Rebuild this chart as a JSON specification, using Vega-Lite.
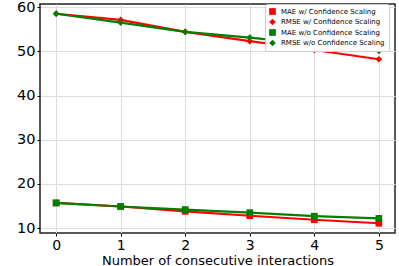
{
  "$schema": "https://vega.github.io/schema/vega-lite/v6.json",
  "width": 355,
  "height": 229,
  "autosize": "none",
  "padding": {"left": 40, "top": 4, "right": 4, "bottom": 33},
  "config": {
    "view": {"stroke": "#222", "strokeWidth": 1.5},
    "font": "DejaVu Sans"
  },
  "data": {
    "values": [
      {"x": 0, "series": "MAE w/ Confidence Scaling", "v": 15.7},
      {"x": 1, "series": "MAE w/ Confidence Scaling", "v": 14.9},
      {"x": 2, "series": "MAE w/ Confidence Scaling", "v": 13.8},
      {"x": 3, "series": "MAE w/ Confidence Scaling", "v": 12.8},
      {"x": 4, "series": "MAE w/ Confidence Scaling", "v": 11.9},
      {"x": 5, "series": "MAE w/ Confidence Scaling", "v": 11.1},
      {"x": 0, "series": "RMSE w/ Confidence Scaling", "v": 58.5},
      {"x": 1, "series": "RMSE w/ Confidence Scaling", "v": 57.1},
      {"x": 2, "series": "RMSE w/ Confidence Scaling", "v": 54.4},
      {"x": 3, "series": "RMSE w/ Confidence Scaling", "v": 52.3},
      {"x": 4, "series": "RMSE w/ Confidence Scaling", "v": 50.3},
      {"x": 5, "series": "RMSE w/ Confidence Scaling", "v": 48.2},
      {"x": 0, "series": "MAE w/o Confidence Scaling", "v": 15.7},
      {"x": 1, "series": "MAE w/o Confidence Scaling", "v": 14.9},
      {"x": 2, "series": "MAE w/o Confidence Scaling", "v": 14.2},
      {"x": 3, "series": "MAE w/o Confidence Scaling", "v": 13.5},
      {"x": 4, "series": "MAE w/o Confidence Scaling", "v": 12.7},
      {"x": 5, "series": "MAE w/o Confidence Scaling", "v": 12.2},
      {"x": 0, "series": "RMSE w/o Confidence Scaling", "v": 58.5},
      {"x": 1, "series": "RMSE w/o Confidence Scaling", "v": 56.5},
      {"x": 2, "series": "RMSE w/o Confidence Scaling", "v": 54.4},
      {"x": 3, "series": "RMSE w/o Confidence Scaling", "v": 53.1},
      {"x": 4, "series": "RMSE w/o Confidence Scaling", "v": 51.6},
      {"x": 5, "series": "RMSE w/o Confidence Scaling", "v": 50.1}
    ]
  },
  "mark": {"type": "line", "strokeWidth": 2.2, "point": {"size": 45, "filled": true, "opacity": 1}},
  "encoding": {
    "x": {
      "field": "x", "type": "quantitative",
      "scale": {"domain": [-0.25, 5.25], "nice": false, "zero": false},
      "axis": {
        "values": [0, 1, 2, 3, 4, 5], "format": "d",
        "title": "Number of consecutive interactions",
        "titleFontSize": 13, "titleFontWeight": "normal", "titleColor": "#000", "titlePadding": 2,
        "labelFontSize": 14, "labelColor": "#000", "labelPadding": 2,
        "domain": false, "tickSize": 3, "tickColor": "#000",
        "gridColor": "#dcdcdc", "gridWidth": 1
      }
    },
    "y": {
      "field": "v", "type": "quantitative",
      "scale": {"domain": [8.9, 60.7], "nice": false, "zero": false},
      "axis": {
        "values": [10, 20, 30, 40, 50, 60],
        "title": null,
        "labelFontSize": 14.5, "labelColor": "#000", "labelPadding": 2,
        "domain": false, "tickSize": 3, "tickColor": "#000",
        "gridColor": "#dcdcdc", "gridWidth": 1
      }
    },
    "color": {
      "field": "series", "type": "nominal",
      "scale": {
        "domain": ["MAE w/ Confidence Scaling", "RMSE w/ Confidence Scaling", "MAE w/o Confidence Scaling", "RMSE w/o Confidence Scaling"],
        "range": ["#ff0000", "#ff0000", "#008000", "#008000"]
      },
      "legend": {
        "title": null, "orient": "none", "legendX": 225, "legendY": 0,
        "labelFontSize": 7, "labelColor": "#000", "symbolSize": 45,
        "rowPadding": 2.5, "padding": 4, "fillColor": "white", "strokeColor": "#ccc",
        "cornerRadius": 2, "symbolStrokeWidth": 0, "labelOffset": 5
      }
    },
    "shape": {
      "field": "series", "type": "nominal",
      "scale": {
        "domain": ["MAE w/ Confidence Scaling", "RMSE w/ Confidence Scaling", "MAE w/o Confidence Scaling", "RMSE w/o Confidence Scaling"],
        "range": ["square", "diamond", "square", "diamond"]
      },
      "legend": {
        "title": null, "orient": "none", "legendX": 225, "legendY": 0,
        "labelFontSize": 7, "labelColor": "#000", "symbolSize": 45,
        "rowPadding": 2.5, "padding": 4, "fillColor": "white", "strokeColor": "#ccc",
        "cornerRadius": 2, "symbolStrokeWidth": 0, "labelOffset": 5
      }
    }
  }
}
